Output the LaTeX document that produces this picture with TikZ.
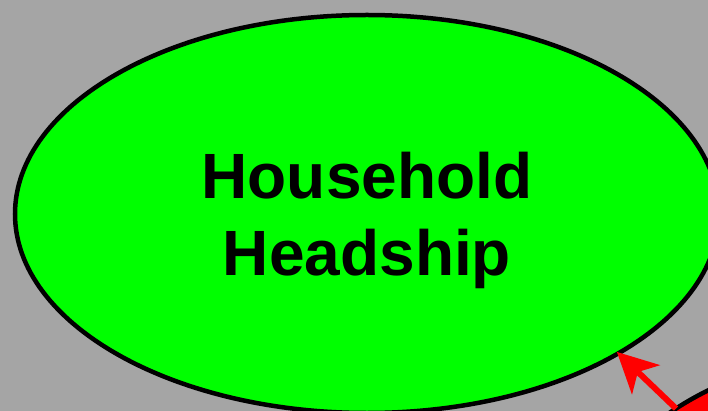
\documentclass[tikz,border=0pt]{standalone}
\usepackage{fontspec}
\setmainfont{Liberation Sans}
\usetikzlibrary{shapes.geometric,arrows.meta}
\definecolor{bggray}{RGB}{165,165,165}
\definecolor{nodegreen}{RGB}{0,255,0}
\definecolor{nodered}{RGB}{255,0,0}
\tikzset{
  bubble/.style={ellipse, draw=black, line width=4.5pt, inner sep=0pt, outer sep=0pt},
  link/.style={draw=nodered, line width=6pt, -{Stealth[length=40pt,width=40pt,inset=11pt]}},
  label/.style={font=\bfseries\fontsize{64}{77}\selectfont, align=center, inner sep=0pt}
}
\begin{document}
\begin{tikzpicture}[x=1pt,y=-1pt]
\fill[bggray] (0,0) rectangle (708,411);
\useasboundingbox (0,0) rectangle (708,411);
\begin{scope}
\clip (0,0) rectangle (708,411);
\node[bubble, fill=nodegreen, minimum width=704pt, minimum height=398pt] (head) at (367,214) {};
\node[label] (headtext) at (367,220) {Household\\Headship};
\node[bubble, fill=nodered, minimum width=690pt, minimum height=396pt] (other) at (934,540) {};
\draw[link, shorten >=-2pt] (other.153.8) -- (head.-29.8);
\end{scope}
\end{tikzpicture}
\end{document}
